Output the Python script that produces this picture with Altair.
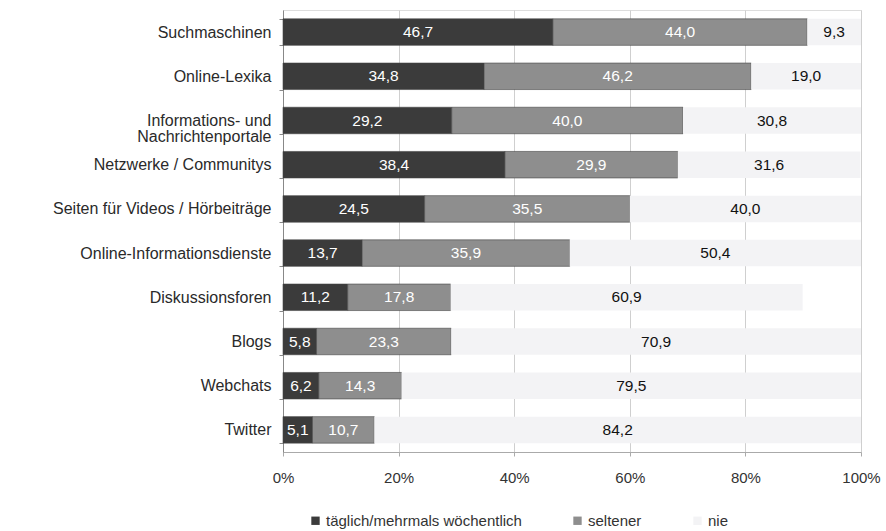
import altair as alt
import pandas as pd

categories = ["Suchmaschinen", "Online-Lexika", "Informations- und|Nachrichtenportale",
              "Netzwerke / Communitys", "Seiten für Videos / Hörbeiträge",
              "Online-Informationsdienste", "Diskussionsforen", "Blogs", "Webchats", "Twitter"]
taeglich = [46.7, 34.8, 29.2, 38.4, 24.5, 13.7, 11.2, 5.8, 6.2, 5.1]
seltener = [44.0, 46.2, 40.0, 29.9, 35.5, 35.9, 17.8, 23.3, 14.3, 10.7]
nie = [9.3, 19.0, 30.8, 31.6, 40.0, 50.4, 60.9, 70.9, 79.5, 84.2]
series = ["täglich/mehrmals wöchentlich", "seltener", "nie"]

rows = []
for i, c in enumerate(categories):
    for j, (s, vals) in enumerate(zip(series, [taeglich, seltener, nie])):
        rows.append({"cat": c, "series": s, "order": j, "value": vals[i]})
df = pd.DataFrame(rows)

FONT = "Liberation Sans"

base = alt.Chart(df).transform_stack(
    stack="value", groupby=["cat"], as_=["x0", "x1"], sort=[alt.SortField("order")]
).transform_calculate(
    mid="(datum.x0 + datum.x1) / 2",
    lbl="replace(format(datum.value, '.1f'), '.', ',')"
)

y_enc = alt.Y("cat:N", sort=categories, title=None,
              scale=alt.Scale(paddingInner=0.4, paddingOuter=0.2),
              axis=alt.Axis(labelExpr="split(datum.label, '|')", labelFont=FONT,
                            labelFontSize=16, labelColor="#2a2a2a", labelPadding=8,
                            labelLimit=400, domainColor="#888", tickColor="#888",
                            tickBand="extent", tickSize=4, labelLineHeight=16))

bars = base.mark_bar(strokeWidth=0.6).encode(
    x=alt.X("x0:Q", scale=alt.Scale(domain=[0, 100]), title=None,
            axis=alt.Axis(values=[0, 20, 40, 60, 80, 100], labelExpr="datum.value + '%'",
                          labelFont=FONT, labelFontSize=15, labelColor="#333",
                          labelFlush=False, grid=True, gridColor="#cfcfcf",
                          domainColor="#aaa", tickColor="#aaa", tickSize=4, labelPadding=14)),
    x2="x1:Q",
    y=y_enc,
    color=alt.Color("series:N", sort=series,
                    scale=alt.Scale(domain=series, range=["#3b3b3b", "#8e8e8e", "#f3f3f5"]),
                    legend=alt.Legend(title=None, orient="none", direction="horizontal",
                                      legendX=25, legendY=503, symbolType="square",
                                      symbolSize=70, symbolStrokeWidth=0, labelLimit=400,
                                      labelFont=FONT, labelFontSize=15, labelColor="#333",
                                      columnPadding=48, labelOffset=3)),
    stroke=alt.condition("datum.order == 2", alt.value(None), alt.value("#444"))
)

text_in = base.transform_filter("datum.order < 2").mark_text(
    font=FONT, fontSize=15.5, color="white"
).encode(x="mid:Q", y=alt.Y("cat:N", sort=categories), text="lbl:N")

text_out = base.transform_filter("datum.order == 2").mark_text(
    font=FONT, fontSize=15.5, color="#111"
).encode(x="mid:Q", y=alt.Y("cat:N", sort=categories), text="lbl:N")

chart = alt.layer(bars, text_in, text_out).properties(
    width=578, height=442,
    autosize=alt.AutoSizeParams(type="none"),
    padding={"left": 283, "top": 10, "right": 25, "bottom": 79}
).configure_view(stroke=None).configure(background="white")

chart.save("out.html", embed_options={"renderer": "svg", "actions": False})
